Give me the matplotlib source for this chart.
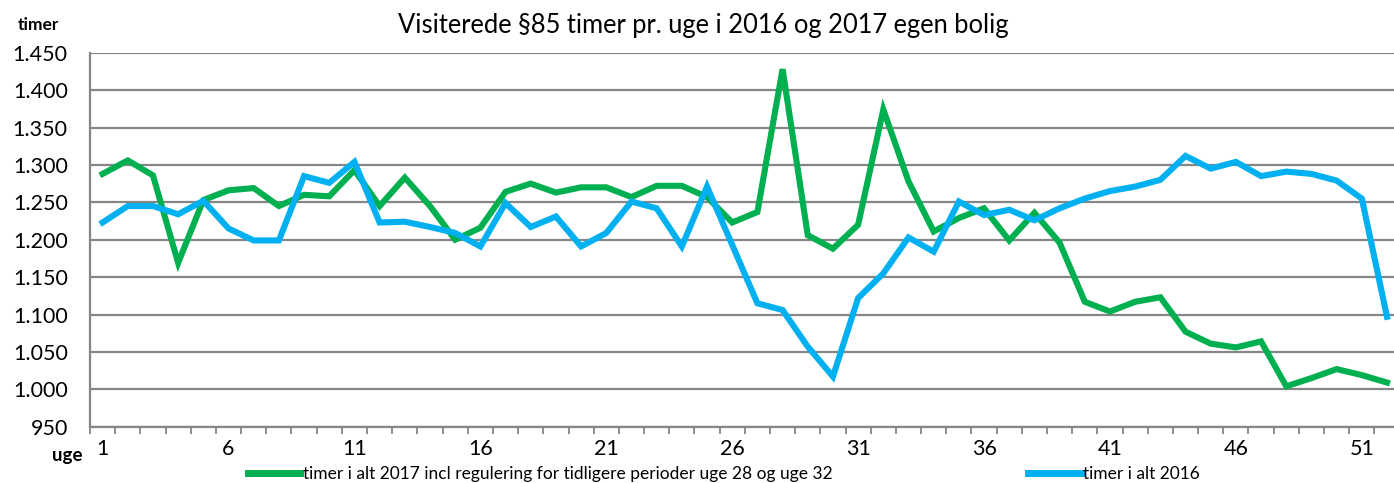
import matplotlib
matplotlib.use("Agg")
import matplotlib.pyplot as plt
from matplotlib.lines import Line2D
from matplotlib.ticker import FuncFormatter, FixedLocator

plt.rcParams['font.family'] = ['Lato', 'DejaVu Sans']

weeks = list(range(1, 53))
timer_2017 = [1288, 1306, 1286, 1169, 1253, 1266, 1269, 1245, 1260, 1258,
              1293, 1245, 1283, 1245, 1200, 1216, 1264, 1275, 1263, 1270,
              1270, 1257, 1272, 1272, 1257, 1223, 1237, 1428, 1206, 1188,
              1220, 1374, 1278, 1211, 1229, 1242, 1199, 1236, 1196, 1117,
              1104, 1117, 1123, 1077, 1061, 1056, 1064, 1004, 1015, 1027,
              1019, 1009]
timer_2016 = [1223, 1245, 1245, 1234, 1252, 1215, 1199, 1199, 1285, 1276,
              1304, 1223, 1224, 1217, 1209, 1191, 1249, 1217, 1231, 1191,
              1209, 1251, 1242, 1191, 1271, 1193, 1115, 1106, 1057, 1017,
              1122, 1155, 1203, 1184, 1251, 1233, 1240, 1226, 1242, 1255,
              1265, 1271, 1280, 1312, 1295, 1304, 1285, 1291, 1288, 1279,
              1255, 1097]
xtick_labels = ['1', '6', '11', '16', '21', '26', '31', '36', '41', '46', '51']
ytick_values = [950, 1000, 1050, 1100, 1150, 1200, 1250, 1300, 1350, 1400, 1450]

title = "Visiterede §85 timer pr. uge i 2016 og 2017 egen bolig"
label_2017 = "timer i alt 2017 incl regulering for tidligere perioder uge 28 og uge 32"
label_2016 = "timer i alt 2016"

green = '#00B050'
blue = '#00B0F0'
grid_c = '#868686'

W, H = 1394, 483
fig = plt.figure(figsize=(W / 100, H / 100), dpi=100)
left = 90 / W
right_px = 1399.6
bottom = (H - 426.7) / H
top = (H - 52.7) / H
ax = fig.add_axes([left, bottom, (right_px - 90) / W, top - bottom])

ax.plot(weeks, timer_2017, color=green, lw=4.4, solid_joinstyle='miter', zorder=3)
ax.plot(weeks, timer_2016, color=blue, lw=4.4, solid_joinstyle='miter', zorder=4)

ax.set_xlim(0.5, 52.5)
ax.set_ylim(950, 1450)
ax.set_yticks(ytick_values)
ax.yaxis.set_major_formatter(FuncFormatter(lambda v, p: f"{int(v):,}".replace(',', '.')))
ax.yaxis.grid(True, color=grid_c, lw=1.6)
ax.set_axisbelow(True)

ax.xaxis.set_major_locator(FixedLocator([int(s) for s in xtick_labels]))
ax.set_xticklabels(xtick_labels)
ax.xaxis.set_minor_locator(FixedLocator([w + 0.5 for w in range(0, 53)]))
ax.tick_params(axis='x', which='major', length=0, pad=9, labelsize=15.5, colors='black')
ax.tick_params(axis='x', which='minor', length=5, width=1.3, color=grid_c, direction='out')
ax.tick_params(axis='y', length=0, pad=16, labelsize=15.5)

for s in ['top', 'right']:
    ax.spines[s].set_visible(False)
ax.spines['left'].set_color(grid_c)
ax.spines['left'].set_linewidth(1.6)
ax.spines['bottom'].set_color(grid_c)
ax.spines['bottom'].set_linewidth(1.6)

fig.text(703 / W, 1 - 26 / H, title, ha='center', va='center', fontsize=18.4)
fig.text(18 / W, 1 - 25 / H, 'timer', ha='left', va='center', fontsize=12.5, fontweight='bold')
fig.text(52 / W, 1 - 455 / H, 'uge', ha='left', va='center', fontsize=13.5, fontweight='bold')

handles = [Line2D([], [], color=green, lw=5), Line2D([], [], color=blue, lw=5)]
fig.legend(handles, [label_2017, label_2016], ncol=2, loc='center left',
           bbox_to_anchor=(248 / W, 1 - 474 / H), frameon=False, fontsize=12.5,
           handlelength=3.0, handletextpad=0.15, columnspacing=11.3, borderpad=0,
           borderaxespad=0)

fig.savefig('out.png', dpi=100)
